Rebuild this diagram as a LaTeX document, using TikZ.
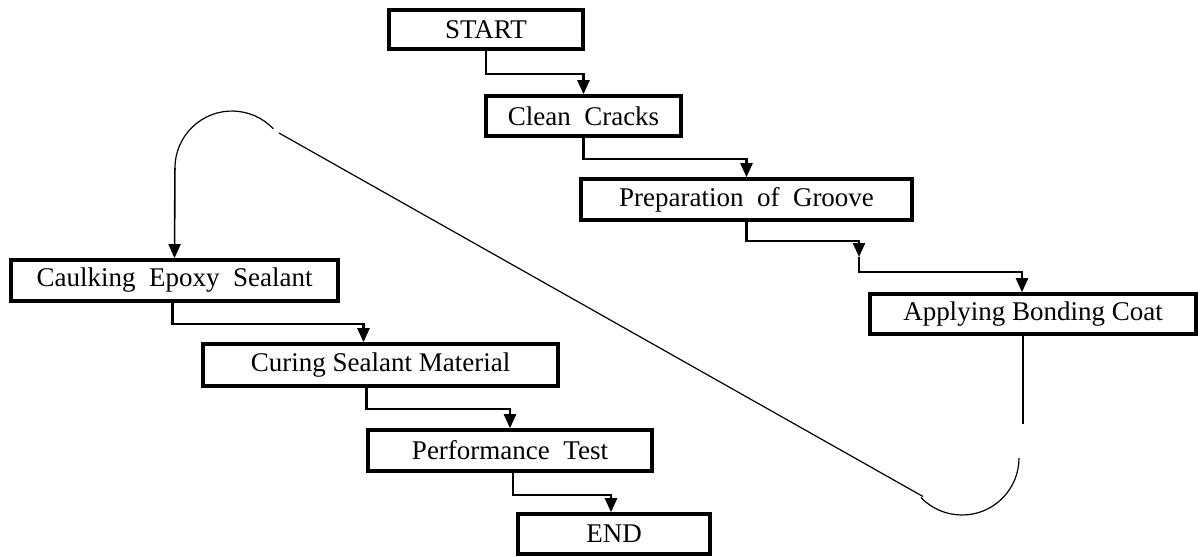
\documentclass[tikz,border=0pt]{standalone}
\usepackage{fontspec}
\setmainfont{Liberation Serif}
\usetikzlibrary{arrows.meta}
\begin{document}
\begin{tikzpicture}[x=1pt,y=-1pt,
  stepbox/.style={draw,line width=3.6pt,rectangle,inner sep=0pt,
    font=\fontsize{27}{30}\selectfont},
  flow/.style={line width=2.4pt,-{Triangle[width=12pt,length=14pt]}},
  back/.style={line width=1.2pt},
  backarrow/.style={line width=1.6pt,-{Triangle[width=12pt,length=14pt]}}]
\useasboundingbox (0,0) rectangle (1200,557);
% process steps
\node[stepbox,minimum width=194pt,minimum height=39pt] (start) at (486,29.5) {START};
\node[stepbox,minimum width=195pt,minimum height=40pt] (clean) at (583.5,116) {Clean~~Cracks};
\node[stepbox,minimum width=331pt,minimum height=41pt] (prep) at (746.5,199.5) {Preparation~~of~~Groove};
\node[stepbox,minimum width=326pt,minimum height=40pt] (apply) at (1033,314) {Applying Bonding Coat};
\node[stepbox,minimum width=327pt,minimum height=41pt] (caulk) at (174.5,280.5) {Caulking~~Epoxy~~Sealant};
\node[stepbox,minimum width=355pt,minimum height=42pt] (cure) at (380.5,365) {Curing Sealant Material};
\node[stepbox,minimum width=284pt,minimum height=41pt] (perf) at (510,450.5) {Performance~~Test};
\node[stepbox,minimum width=192pt,minimum height=40pt] (end) at (614,534) {END};
% stepped connectors
\draw[flow] (start.south) -- ++(0,23) -| (clean.north);
\draw[flow] (clean.south) -- ++(0,21) -| (prep.north);
\coordinate (mid) at (859,257);
\draw[flow] (prep.south) -- ++(0,19) -| (mid);
\draw[flow] (mid) -- ++(0,15) -| ([xshift=-11pt]apply.north);
\draw[flow] ([xshift=-2pt]caulk.south) -- ++(0,21) -| ([xshift=-17pt]cure.north);
\draw[flow] ([xshift=-14pt]cure.south) -- ++(0,21) -| (perf.north);
\draw[flow] ([xshift=3pt]perf.south) -- ++(0,22) -| ([xshift=-3pt]end.north);
% return path from the right column to the left column
\coordinate (r1) at (1019,458);
\coordinate (r2) at (923,496.5);
\coordinate (l1) at (279,133);
\coordinate (l2) at (273.3,128.8);
\draw[back] ([xshift=-10pt]apply.south) -- ++(0,88);
\draw[back] (r1) arc[start angle=0,end angle=136,radius=57];
\draw[back] (r2) -- (l1);
\draw[back] (l2) arc[start angle=-43.5,end angle=-180,radius=57] coordinate (l3);
\draw[backarrow] (l3) -- (caulk.north);
\end{tikzpicture}
\end{document}
